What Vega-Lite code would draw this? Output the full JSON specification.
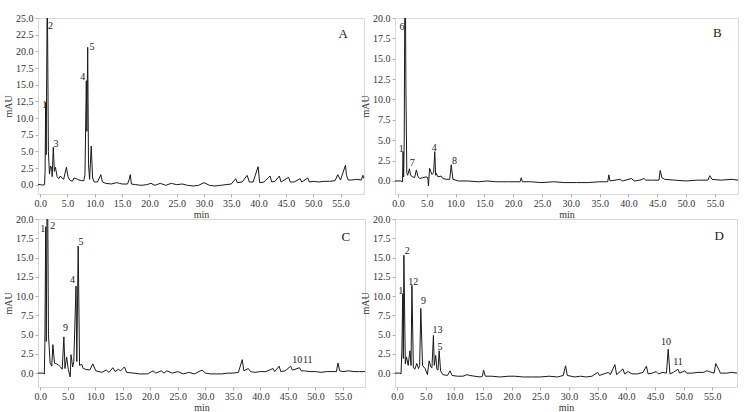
{
  "$schema": "https://vega.github.io/schema/vega-lite/v6.json",
  "background": "white",
  "padding": {"left": 3, "top": 12, "right": 8, "bottom": 0},
  "bounds": "flush",
  "columns": 2,
  "spacing": {"row": 25, "column": 30},
  "config": {
    "font": "Liberation Serif",
    "view": {"stroke": "#d9d9d9", "strokeWidth": 1},
    "axis": {
      "domain": false,
      "grid": false,
      "labelFont": "Liberation Serif",
      "labelFontSize": 10,
      "labelColor": "#333",
      "labelOverlap": false,
      "labelFlush": false,
      "tickColor": "#b0b0b0",
      "tickSize": 3,
      "labelPadding": 2,
      "titleFont": "Liberation Serif",
      "titleFontSize": 10,
      "titleFontWeight": "normal",
      "titleColor": "#333"
    },
    "axisX": {"titlePadding": 1, "labelPadding": 1},
    "axisY": {"titlePadding": 2}
  },
  "datasets": {
    "trace": [
      {"p":"A","t":-0.4,"v":0.05},{"p":"A","t":0.0,"v":0.0},{"p":"A","t":0.5,"v":-0.05},{"p":"A","t":0.8,"v":0.0},{"p":"A","t":0.9,"v":2.0},{"p":"A","t":1.0,"v":12.3},{"p":"A","t":1.1,"v":4.5},{"p":"A","t":1.3,"v":30},{"p":"A","t":1.5,"v":5},{"p":"A","t":1.7,"v":1.6},{"p":"A","t":1.9,"v":2.8},{"p":"A","t":2.1,"v":2.5},{"p":"A","t":2.2,"v":1.2},{"p":"A","t":2.4,"v":5.6},{"p":"A","t":2.6,"v":2.0},{"p":"A","t":2.8,"v":2.6},{"p":"A","t":3.1,"v":1.2},{"p":"A","t":3.4,"v":0.9},{"p":"A","t":3.7,"v":1.3},{"p":"A","t":4.0,"v":1.0},{"p":"A","t":4.3,"v":0.8},{"p":"A","t":4.8,"v":2.6},{"p":"A","t":5.1,"v":1.2},{"p":"A","t":5.4,"v":0.7},{"p":"A","t":5.9,"v":0.5},{"p":"A","t":6.2,"v":1.0},{"p":"A","t":6.6,"v":0.9},{"p":"A","t":7.1,"v":0.7},{"p":"A","t":7.6,"v":0.6},{"p":"A","t":8.0,"v":0.6},{"p":"A","t":8.2,"v":1.5},{"p":"A","t":8.45,"v":15.6},{"p":"A","t":8.55,"v":8},{"p":"A","t":8.7,"v":20.6},{"p":"A","t":8.85,"v":3},{"p":"A","t":9.05,"v":0.8},{"p":"A","t":9.35,"v":5.8},{"p":"A","t":9.6,"v":1.0},{"p":"A","t":9.9,"v":0.4},{"p":"A","t":10.5,"v":0.4},{"p":"A","t":11.1,"v":1.5},{"p":"A","t":11.4,"v":0.4},{"p":"A","t":12,"v":0.2},{"p":"A","t":13,"v":0.1},{"p":"A","t":14,"v":0.3},{"p":"A","t":14.5,"v":0.2},{"p":"A","t":15,"v":0.1},{"p":"A","t":16.0,"v":0.1},{"p":"A","t":16.3,"v":0.8},{"p":"A","t":16.5,"v":1.5},{"p":"A","t":16.7,"v":0.1},{"p":"A","t":17.5,"v":0.0},{"p":"A","t":18.5,"v":-0.1},{"p":"A","t":19.5,"v":0.0},{"p":"A","t":20.3,"v":0.2},{"p":"A","t":21,"v":-0.1},{"p":"A","t":22,"v":0.2},{"p":"A","t":23,"v":-0.1},{"p":"A","t":24,"v":0.2},{"p":"A","t":25,"v":0.0},{"p":"A","t":26,"v":0.1},{"p":"A","t":27,"v":-0.1},{"p":"A","t":28,"v":-0.2},{"p":"A","t":29,"v":-0.1},{"p":"A","t":30,"v":0.3},{"p":"A","t":31,"v":-0.1},{"p":"A","t":32,"v":-0.2},{"p":"A","t":33,"v":-0.1},{"p":"A","t":34,"v":0.0},{"p":"A","t":35,"v":0.1},{"p":"A","t":35.8,"v":0.9},{"p":"A","t":36.1,"v":0.3},{"p":"A","t":37,"v":0.4},{"p":"A","t":37.9,"v":1.4},{"p":"A","t":38.3,"v":0.4},{"p":"A","t":39,"v":0.4},{"p":"A","t":39.9,"v":2.7},{"p":"A","t":40.2,"v":0.3},{"p":"A","t":41,"v":0.4},{"p":"A","t":42.1,"v":1.3},{"p":"A","t":42.4,"v":0.4},{"p":"A","t":43,"v":0.5},{"p":"A","t":43.8,"v":1.3},{"p":"A","t":44.1,"v":0.4},{"p":"A","t":45.5,"v":1.1},{"p":"A","t":45.8,"v":0.4},{"p":"A","t":46.5,"v":0.4},{"p":"A","t":47.6,"v":0.9},{"p":"A","t":47.9,"v":0.4},{"p":"A","t":49.0,"v":1.0},{"p":"A","t":49.3,"v":0.4},{"p":"A","t":50,"v":0.5},{"p":"A","t":51,"v":0.4},{"p":"A","t":52,"v":0.5},{"p":"A","t":53,"v":0.5},{"p":"A","t":54.0,"v":0.6},{"p":"A","t":54.5,"v":1.5},{"p":"A","t":55.0,"v":0.7},{"p":"A","t":55.9,"v":2.9},{"p":"A","t":56.1,"v":1.4},{"p":"A","t":56.4,"v":0.7},{"p":"A","t":57,"v":0.7},{"p":"A","t":58,"v":0.8},{"p":"A","t":58.8,"v":0.7},{"p":"A","t":59.1,"v":1.4},{"p":"A","t":59.3,"v":0.9},

      {"p":"B","t":-0.5,"v":0.0},{"p":"B","t":0.5,"v":0.0},{"p":"B","t":0.8,"v":-0.1},{"p":"B","t":0.9,"v":3.6},{"p":"B","t":1.0,"v":0.5},{"p":"B","t":1.1,"v":5},{"p":"B","t":1.25,"v":30},{"p":"B","t":1.4,"v":11},{"p":"B","t":1.55,"v":1.0},{"p":"B","t":1.7,"v":0.7},{"p":"B","t":2.0,"v":1.5},{"p":"B","t":2.2,"v":0.7},{"p":"B","t":2.6,"v":0.5},{"p":"B","t":2.9,"v":0.4},{"p":"B","t":3.2,"v":1.35},{"p":"B","t":3.5,"v":0.5},{"p":"B","t":3.8,"v":0.3},{"p":"B","t":4.3,"v":0.4},{"p":"B","t":4.9,"v":0.5},{"p":"B","t":5.2,"v":0.4},{"p":"B","t":5.3,"v":-0.6},{"p":"B","t":5.5,"v":1.55},{"p":"B","t":5.9,"v":0.8},{"p":"B","t":6.2,"v":1.0},{"p":"B","t":6.4,"v":3.6},{"p":"B","t":6.55,"v":0.7},{"p":"B","t":6.65,"v":0.95},{"p":"B","t":6.95,"v":0.5},{"p":"B","t":7.5,"v":0.6},{"p":"B","t":7.8,"v":0.3},{"p":"B","t":8.5,"v":0.2},{"p":"B","t":9.0,"v":0.2},{"p":"B","t":9.25,"v":2.0},{"p":"B","t":9.55,"v":0.2},{"p":"B","t":10.5,"v":0.0},{"p":"B","t":12,"v":0.0},{"p":"B","t":14,"v":-0.1},{"p":"B","t":15.5,"v":0.0},{"p":"B","t":17,"v":-0.1},{"p":"B","t":19,"v":-0.1},{"p":"B","t":21.2,"v":-0.1},{"p":"B","t":21.4,"v":0.4},{"p":"B","t":21.6,"v":-0.1},{"p":"B","t":23,"v":-0.1},{"p":"B","t":25,"v":-0.2},{"p":"B","t":27,"v":-0.1},{"p":"B","t":29,"v":-0.2},{"p":"B","t":31,"v":-0.2},{"p":"B","t":33,"v":-0.2},{"p":"B","t":35,"v":-0.1},{"p":"B","t":36.4,"v":-0.1},{"p":"B","t":36.6,"v":0.75},{"p":"B","t":36.8,"v":0.0},{"p":"B","t":38.5,"v":0.2},{"p":"B","t":39,"v":0.0},{"p":"B","t":40.5,"v":0.3},{"p":"B","t":41,"v":0.0},{"p":"B","t":42,"v":0.1},{"p":"B","t":42.7,"v":0.3},{"p":"B","t":43,"v":0.1},{"p":"B","t":44,"v":0.1},{"p":"B","t":45.3,"v":0.1},{"p":"B","t":45.5,"v":1.3},{"p":"B","t":45.8,"v":0.4},{"p":"B","t":46.3,"v":0.2},{"p":"B","t":48,"v":0.1},{"p":"B","t":50,"v":0.0},{"p":"B","t":52,"v":0.1},{"p":"B","t":53.8,"v":0.1},{"p":"B","t":54.1,"v":0.65},{"p":"B","t":54.5,"v":0.2},{"p":"B","t":56,"v":0.1},{"p":"B","t":58,"v":0.2},{"p":"B","t":59,"v":0.1},

      {"p":"C","t":-0.4,"v":0.0},{"p":"C","t":0.5,"v":0.0},{"p":"C","t":0.75,"v":-0.1},{"p":"C","t":0.85,"v":4},{"p":"C","t":1.0,"v":19},{"p":"C","t":1.1,"v":4.1},{"p":"C","t":1.3,"v":30},{"p":"C","t":1.5,"v":5},{"p":"C","t":1.8,"v":1.3},{"p":"C","t":2.1,"v":0.9},{"p":"C","t":2.3,"v":3.7},{"p":"C","t":2.6,"v":1.3},{"p":"C","t":3.0,"v":1.2},{"p":"C","t":3.4,"v":1.0},{"p":"C","t":3.7,"v":0.8},{"p":"C","t":4.0,"v":0.5},{"p":"C","t":4.3,"v":4.7},{"p":"C","t":4.5,"v":0.6},{"p":"C","t":4.8,"v":2.1},{"p":"C","t":5.1,"v":0.5},{"p":"C","t":5.45,"v":-0.5},{"p":"C","t":5.6,"v":2.4},{"p":"C","t":5.9,"v":0.8},{"p":"C","t":6.1,"v":1.5},{"p":"C","t":6.5,"v":11.3},{"p":"C","t":6.65,"v":1.5},{"p":"C","t":6.9,"v":16.5},{"p":"C","t":7.15,"v":1.0},{"p":"C","t":7.55,"v":1.15},{"p":"C","t":7.8,"v":0.6},{"p":"C","t":8.2,"v":0.5},{"p":"C","t":9.0,"v":0.4},{"p":"C","t":9.55,"v":1.2},{"p":"C","t":10.1,"v":0.3},{"p":"C","t":11.2,"v":0.1},{"p":"C","t":12.0,"v":0.4},{"p":"C","t":12.5,"v":0.1},{"p":"C","t":13.2,"v":0.7},{"p":"C","t":13.6,"v":0.2},{"p":"C","t":14.2,"v":0.5},{"p":"C","t":14.6,"v":0.3},{"p":"C","t":15.3,"v":0.8},{"p":"C","t":15.7,"v":0.1},{"p":"C","t":17,"v":0.0},{"p":"C","t":18,"v":-0.1},{"p":"C","t":19.5,"v":-0.1},{"p":"C","t":20.5,"v":0.3},{"p":"C","t":21,"v":0.0},{"p":"C","t":22,"v":0.3},{"p":"C","t":22.5,"v":0.0},{"p":"C","t":23,"v":0.3},{"p":"C","t":24,"v":0.0},{"p":"C","t":25,"v":0.2},{"p":"C","t":26,"v":-0.1},{"p":"C","t":27,"v":0.1},{"p":"C","t":28,"v":-0.1},{"p":"C","t":29.4,"v":0.4},{"p":"C","t":30,"v":0.0},{"p":"C","t":31,"v":-0.1},{"p":"C","t":32,"v":-0.1},{"p":"C","t":33,"v":-0.1},{"p":"C","t":34,"v":0.0},{"p":"C","t":35,"v":0.0},{"p":"C","t":36,"v":0.1},{"p":"C","t":36.7,"v":1.75},{"p":"C","t":37.0,"v":0.3},{"p":"C","t":37.8,"v":0.6},{"p":"C","t":38.2,"v":0.2},{"p":"C","t":39,"v":0.1},{"p":"C","t":40,"v":0.2},{"p":"C","t":41,"v":0.2},{"p":"C","t":42.3,"v":0.6},{"p":"C","t":42.6,"v":0.2},{"p":"C","t":43.4,"v":0.9},{"p":"C","t":43.7,"v":0.2},{"p":"C","t":44.5,"v":0.3},{"p":"C","t":45.5,"v":0.9},{"p":"C","t":45.8,"v":0.4},{"p":"C","t":46.3,"v":0.5},{"p":"C","t":47.1,"v":0.7},{"p":"C","t":47.4,"v":0.3},{"p":"C","t":48,"v":0.3},{"p":"C","t":49,"v":0.2},{"p":"C","t":50,"v":0.2},{"p":"C","t":51,"v":0.1},{"p":"C","t":52,"v":0.2},{"p":"C","t":53,"v":0.2},{"p":"C","t":53.8,"v":0.2},{"p":"C","t":54.1,"v":1.3},{"p":"C","t":54.4,"v":0.3},{"p":"C","t":55,"v":0.2},{"p":"C","t":56,"v":0.3},{"p":"C","t":57,"v":0.2},{"p":"C","t":58,"v":0.2},{"p":"C","t":59,"v":0.2},

      {"p":"D","t":-0.35,"v":0.0},{"p":"D","t":0.5,"v":0.0},{"p":"D","t":0.7,"v":-0.1},{"p":"D","t":0.85,"v":3},{"p":"D","t":1.0,"v":10.3},{"p":"D","t":1.1,"v":1.9},{"p":"D","t":1.2,"v":15.3},{"p":"D","t":1.45,"v":1.2},{"p":"D","t":1.65,"v":2.1},{"p":"D","t":1.95,"v":1.0},{"p":"D","t":2.25,"v":2.9},{"p":"D","t":2.45,"v":1.0},{"p":"D","t":2.6,"v":11.4},{"p":"D","t":2.85,"v":0.8},{"p":"D","t":3.1,"v":0.5},{"p":"D","t":3.45,"v":1.25},{"p":"D","t":3.75,"v":0.6},{"p":"D","t":3.95,"v":1.0},{"p":"D","t":4.15,"v":8.4},{"p":"D","t":4.45,"v":1.0},{"p":"D","t":4.9,"v":0.6},{"p":"D","t":5.3,"v":-0.2},{"p":"D","t":5.6,"v":1.6},{"p":"D","t":5.9,"v":0.8},{"p":"D","t":6.1,"v":0.7},{"p":"D","t":6.35,"v":4.9},{"p":"D","t":6.5,"v":1.0},{"p":"D","t":6.75,"v":2.3},{"p":"D","t":6.95,"v":0.5},{"p":"D","t":7.15,"v":0.4},{"p":"D","t":7.35,"v":2.9},{"p":"D","t":7.6,"v":0.3},{"p":"D","t":8.0,"v":-0.2},{"p":"D","t":8.8,"v":-0.3},{"p":"D","t":9.25,"v":0.3},{"p":"D","t":9.6,"v":-0.3},{"p":"D","t":10.5,"v":-0.4},{"p":"D","t":11.5,"v":-0.4},{"p":"D","t":12.2,"v":-0.2},{"p":"D","t":12.7,"v":-0.3},{"p":"D","t":13.5,"v":-0.4},{"p":"D","t":14.5,"v":-0.5},{"p":"D","t":14.9,"v":-0.4},{"p":"D","t":15.1,"v":0.4},{"p":"D","t":15.4,"v":-0.4},{"p":"D","t":16.5,"v":-0.4},{"p":"D","t":18,"v":-0.5},{"p":"D","t":19.5,"v":-0.4},{"p":"D","t":20.5,"v":-0.4},{"p":"D","t":22,"v":-0.5},{"p":"D","t":23.5,"v":-0.5},{"p":"D","t":25,"v":-0.5},{"p":"D","t":26.5,"v":-0.4},{"p":"D","t":28,"v":-0.5},{"p":"D","t":29.0,"v":-0.3},{"p":"D","t":29.4,"v":0.95},{"p":"D","t":29.7,"v":-0.3},{"p":"D","t":31,"v":-0.5},{"p":"D","t":32,"v":-0.4},{"p":"D","t":33,"v":-0.5},{"p":"D","t":34,"v":-0.4},{"p":"D","t":35.0,"v":0.1},{"p":"D","t":35.3,"v":-0.3},{"p":"D","t":36.9,"v":0.1},{"p":"D","t":37.2,"v":-0.2},{"p":"D","t":38.0,"v":1.1},{"p":"D","t":38.3,"v":-0.2},{"p":"D","t":38.9,"v":0.2},{"p":"D","t":39.4,"v":0.55},{"p":"D","t":39.7,"v":-0.1},{"p":"D","t":40.3,"v":0.2},{"p":"D","t":41,"v":-0.1},{"p":"D","t":42,"v":-0.1},{"p":"D","t":42.9,"v":0.1},{"p":"D","t":43.5,"v":0.9},{"p":"D","t":43.8,"v":-0.1},{"p":"D","t":44.5,"v":0.0},{"p":"D","t":45.2,"v":0.2},{"p":"D","t":45.6,"v":-0.1},{"p":"D","t":46.4,"v":0.1},{"p":"D","t":47.0,"v":0.0},{"p":"D","t":47.3,"v":3.1},{"p":"D","t":47.6,"v":-0.1},{"p":"D","t":48.2,"v":0.1},{"p":"D","t":49.0,"v":0.5},{"p":"D","t":49.3,"v":0.0},{"p":"D","t":50.2,"v":0.3},{"p":"D","t":50.5,"v":0.0},{"p":"D","t":51.5,"v":0.0},{"p":"D","t":52.5,"v":0.1},{"p":"D","t":53.5,"v":0.1},{"p":"D","t":54.0,"v":0.3},{"p":"D","t":54.5,"v":0.2},{"p":"D","t":55.3,"v":0.0},{"p":"D","t":55.6,"v":1.25},{"p":"D","t":56.1,"v":0.5},{"p":"D","t":56.4,"v":0.0},{"p":"D","t":57.5,"v":0.0},{"p":"D","t":58.4,"v":0.1},{"p":"D","t":59.3,"v":0.0}
    ],
    "peaks": [
      {"p":"A","t":0.85,"v":12.0,"s":"1"},{"p":"A","t":1.9,"v":23.8,"s":"2"},{"p":"A","t":2.9,"v":6.1,"s":"3"},{"p":"A","t":7.8,"v":16.1,"s":"4"},{"p":"A","t":9.5,"v":20.6,"s":"5"},
      {"p":"B","t":0.7,"v":18.9,"s":"6"},{"p":"B","t":0.6,"v":3.9,"s":"1"},{"p":"B","t":2.5,"v":2.2,"s":"7"},{"p":"B","t":6.3,"v":4.1,"s":"4"},{"p":"B","t":9.8,"v":2.4,"s":"8"},
      {"p":"C","t":0.45,"v":18.7,"s":"1"},{"p":"C","t":2.3,"v":19.1,"s":"2"},{"p":"C","t":4.6,"v":5.8,"s":"9"},{"p":"C","t":5.85,"v":12.1,"s":"4"},{"p":"C","t":7.4,"v":17.0,"s":"5"},{"p":"C","t":46.7,"v":1.65,"s":"10"},{"p":"C","t":48.6,"v":1.75,"s":"11"},
      {"p":"D","t":0.65,"v":10.6,"s":"1"},{"p":"D","t":1.8,"v":15.8,"s":"2"},{"p":"D","t":2.85,"v":11.8,"s":"12"},{"p":"D","t":4.6,"v":9.3,"s":"9"},{"p":"D","t":7.05,"v":5.55,"s":"13"},{"p":"D","t":7.5,"v":3.4,"s":"5"},{"p":"D","t":46.9,"v":4.1,"s":"10"},{"p":"D","t":49.0,"v":1.45,"s":"11"}
    ],
    "panels": [
      {"p":"A","t":55.5,"v":22.6,"s":"A"},
      {"p":"B","t":55.4,"v":18.2,"s":"B"},
      {"p":"C","t":55.5,"v":17.7,"s":"C"},
      {"p":"D","t":56.2,"v":17.8,"s":"D"}
    ]
  },
  "concat": [
    {
      "width": 326, "height": 176,
      "encoding": {
        "x": {"field": "t", "type": "quantitative", "scale": {"domain": [-0.4, 59.3], "nice": false, "zero": false}, "axis": {"title": "min", "values": [0,5,10,15,20,25,30,35,40,45,50,55], "format": ".1f"}},
        "y": {"field": "v", "type": "quantitative", "scale": {"domain": [-1.4, 25], "nice": false, "zero": false}, "axis": {"title": "mAU", "values": [0,2.5,5,7.5,10,12.5,15,17.5,20,22.5,25], "format": ".1f"}}
      },
      "layer": [
        {"data": {"name": "trace"}, "transform": [{"filter": "datum.p === 'A'"}],
         "mark": {"type": "line", "clip": true, "color": "#1a1a1a", "strokeWidth": 1}},
        {"data": {"name": "peaks"}, "transform": [{"filter": "datum.p === 'A'"}],
         "mark": {"type": "text", "fontSize": 10, "align": "center", "baseline": "middle", "fill": "#222"},
         "encoding": {"text": {"field": "s"}}},
        {"data": {"name": "panels"}, "transform": [{"filter": "datum.p === 'A'"}],
         "mark": {"type": "text", "fontSize": 13, "align": "center", "baseline": "middle", "fill": "#222"},
         "encoding": {"text": {"field": "s"}}}
      ]
    },
    {
      "width": 343, "height": 176,
      "encoding": {
        "x": {"field": "t", "type": "quantitative", "scale": {"domain": [-0.5, 59.0], "nice": false, "zero": false}, "axis": {"title": "min", "values": [0,5,10,15,20,25,30,35,40,45,50,55], "format": ".1f"}},
        "y": {"field": "v", "type": "quantitative", "scale": {"domain": [-1.6, 20], "nice": false, "zero": false}, "axis": {"title": "mAU", "values": [0,2.5,5,7.5,10,12.5,15,17.5,20], "format": ".1f"}}
      },
      "layer": [
        {"data": {"name": "trace"}, "transform": [{"filter": "datum.p === 'B'"}],
         "mark": {"type": "line", "clip": true, "color": "#1a1a1a", "strokeWidth": 1}},
        {"data": {"name": "peaks"}, "transform": [{"filter": "datum.p === 'B'"}],
         "mark": {"type": "text", "fontSize": 10, "align": "center", "baseline": "middle", "fill": "#222"},
         "encoding": {"text": {"field": "s"}}},
        {"data": {"name": "panels"}, "transform": [{"filter": "datum.p === 'B'"}],
         "mark": {"type": "text", "fontSize": 13, "align": "center", "baseline": "middle", "fill": "#222"},
         "encoding": {"text": {"field": "s"}}}
      ]
    },
    {
      "width": 327, "height": 168,
      "encoding": {
        "x": {"field": "t", "type": "quantitative", "scale": {"domain": [-0.4, 59.0], "nice": false, "zero": false}, "axis": {"title": "min", "values": [0,5,10,15,20,25,30,35,40,45,50,55], "format": ".1f"}},
        "y": {"field": "v", "type": "quantitative", "scale": {"domain": [-1.8, 20], "nice": false, "zero": false}, "axis": {"title": "mAU", "values": [0,2.5,5,7.5,10,12.5,15,17.5,20], "format": ".1f"}}
      },
      "layer": [
        {"data": {"name": "trace"}, "transform": [{"filter": "datum.p === 'C'"}],
         "mark": {"type": "line", "clip": true, "color": "#1a1a1a", "strokeWidth": 1}},
        {"data": {"name": "peaks"}, "transform": [{"filter": "datum.p === 'C'"}],
         "mark": {"type": "text", "fontSize": 10, "align": "center", "baseline": "middle", "fill": "#222"},
         "encoding": {"text": {"field": "s"}}},
        {"data": {"name": "panels"}, "transform": [{"filter": "datum.p === 'C'"}],
         "mark": {"type": "text", "fontSize": 13, "align": "center", "baseline": "middle", "fill": "#222"},
         "encoding": {"text": {"field": "s"}}}
      ]
    },
    {
      "width": 342, "height": 168,
      "encoding": {
        "x": {"field": "t", "type": "quantitative", "scale": {"domain": [-0.35, 59.3], "nice": false, "zero": false}, "axis": {"title": "min", "values": [0,5,10,15,20,25,30,35,40,45,50,55], "format": ".1f"}},
        "y": {"field": "v", "type": "quantitative", "scale": {"domain": [-1.8, 20], "nice": false, "zero": false}, "axis": {"title": "mAU", "values": [0,2.5,5,7.5,10,12.5,15,17.5,20], "format": ".1f"}}
      },
      "layer": [
        {"data": {"name": "trace"}, "transform": [{"filter": "datum.p === 'D'"}],
         "mark": {"type": "line", "clip": true, "color": "#1a1a1a", "strokeWidth": 1}},
        {"data": {"name": "peaks"}, "transform": [{"filter": "datum.p === 'D'"}],
         "mark": {"type": "text", "fontSize": 10, "align": "center", "baseline": "middle", "fill": "#222"},
         "encoding": {"text": {"field": "s"}}},
        {"data": {"name": "panels"}, "transform": [{"filter": "datum.p === 'D'"}],
         "mark": {"type": "text", "fontSize": 13, "align": "center", "baseline": "middle", "fill": "#222"},
         "encoding": {"text": {"field": "s"}}}
      ]
    }
  ]
}
